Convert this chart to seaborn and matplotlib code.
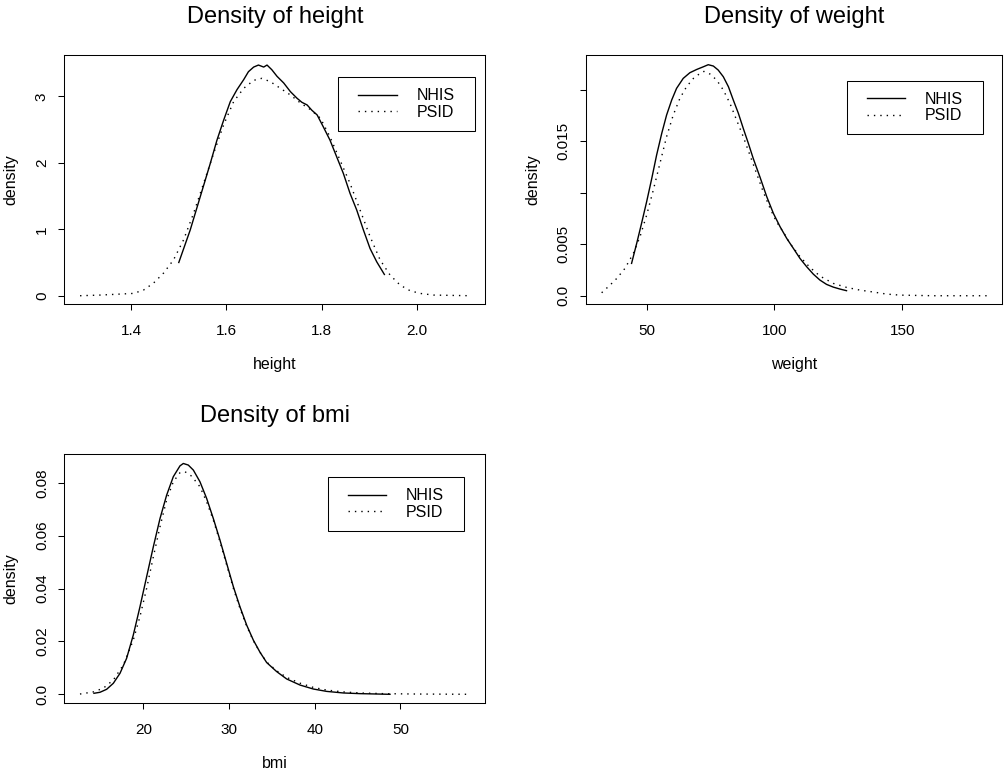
import numpy as np
import pandas as pd
import matplotlib
matplotlib.use("Agg")
import matplotlib.pyplot as plt
import seaborn as sns
from matplotlib.lines import Line2D
from matplotlib.legend_handler import HandlerLine2D

# valores
height_nhis_x = [1.500, 1.524, 1.545, 1.566, 1.580, 1.594, 1.608, 1.622, 1.636, 1.646, 1.657, 1.667,
                 1.678, 1.685, 1.695, 1.706, 1.720, 1.734, 1.748, 1.758, 1.769, 1.779, 1.790, 1.803,
                 1.817, 1.831, 1.845, 1.859, 1.873, 1.887, 1.901, 1.915, 1.931]
height_nhis_y = [0.50, 0.99, 1.49, 1.99, 2.34, 2.64, 2.92, 3.10, 3.25, 3.37, 3.44, 3.47,
                 3.44, 3.47, 3.40, 3.30, 3.20, 3.07, 2.97, 2.91, 2.87, 2.79, 2.72, 2.54,
                 2.34, 2.09, 1.84, 1.54, 1.29, 0.99, 0.71, 0.51, 0.32]
height_psid_x = [1.293, 1.335, 1.405, 1.426, 1.447, 1.468, 1.489, 1.510, 1.531, 1.552, 1.573, 1.594,
                 1.615, 1.636, 1.657, 1.674, 1.692, 1.713, 1.734, 1.755, 1.776, 1.797, 1.817, 1.838,
                 1.859, 1.880, 1.901, 1.922, 1.943, 1.964, 1.985, 2.006, 2.034, 2.111]
height_psid_y = [0.0, 0.01, 0.035, 0.085, 0.19, 0.34, 0.54, 0.84, 1.24, 1.69, 2.14, 2.57,
                 2.92, 3.12, 3.24, 3.27, 3.22, 3.12, 3.02, 2.90, 2.80, 2.67, 2.39, 2.04,
                 1.69, 1.29, 0.89, 0.54, 0.31, 0.16, 0.075, 0.035, 0.01, 0.0]

weight_nhis_x = [44.1, 46.1, 48.0, 50.0, 52.0, 53.9, 55.9, 57.8, 59.8, 61.7, 64.3, 66.9, 69.6, 72.2,
                 74.1, 76.1, 78.0, 80.0, 82.0, 83.9, 85.9, 87.8, 89.8, 91.7, 94.3, 97.0, 99.6,
                 102.2, 104.8, 107.4, 110.0, 112.6, 115.2, 117.8, 120.4, 123.0, 125.6, 128.2]
weight_nhis_y = [0.00314, 0.00508, 0.00702, 0.00913, 0.01139, 0.01366, 0.01576, 0.01754, 0.0190,
                 0.02013, 0.0211, 0.02165, 0.02197, 0.02223, 0.02243, 0.0223, 0.02191, 0.02126,
                 0.02029, 0.0190, 0.0177, 0.01625, 0.01479, 0.01333, 0.01155, 0.00961, 0.00799,
                 0.0067, 0.00557, 0.0046, 0.00362, 0.00282, 0.0021, 0.00152, 0.0011, 0.00084,
                 0.00065, 0.00049]
weight_psid_x = [32.4, 35.7, 38.3, 41.5, 44.8, 47.4, 50.0, 52.6, 55.2, 57.8, 60.4, 63.0, 65.6, 68.3,
                 70.9, 72.4, 74.8, 77.4, 80.0, 82.6, 85.2, 87.8, 90.4, 93.0, 95.6, 98.3, 100.8,
                 103.4, 106.1, 110.0, 113.9, 117.8, 123.0, 128.2, 133.4, 138.7, 143.9, 149.1,
                 162.1, 183.2]
weight_psid_y = [0.00029, 0.00104, 0.00168, 0.00265, 0.00411, 0.00573, 0.00783, 0.01026, 0.01285,
                 0.01544, 0.01754, 0.01916, 0.02029, 0.0211, 0.02159, 0.02178, 0.02152, 0.02094,
                 0.01997, 0.01867, 0.01705, 0.01544, 0.01366, 0.01188, 0.0101, 0.00848, 0.00718,
                 0.00621, 0.00508, 0.00379, 0.00275, 0.00191, 0.0012, 0.00081, 0.00055, 0.00036,
                 0.00016, 0.00006, 0.0, 0.0]

bmi_nhis_x = [14.24, 14.94, 15.72, 16.5, 17.28, 18.05, 18.83, 19.61, 20.39, 21.17, 21.95, 22.72,
              23.5, 24.28, 24.67, 25.25, 25.84, 26.61, 27.39, 28.17, 28.95, 29.73, 30.51, 31.28,
              32.06, 32.84, 33.62, 34.4, 35.56, 36.73, 38.29, 39.84, 41.4, 43.35, 45.29, 48.79]
bmi_nhis_y = [0.00038, 0.00076, 0.00189, 0.00416, 0.00794, 0.0136, 0.0224, 0.0331, 0.0445, 0.0558,
              0.0665, 0.0753, 0.0823, 0.0864, 0.0873, 0.0867, 0.0848, 0.0804, 0.0741, 0.0665,
              0.0583, 0.0495, 0.0407, 0.0331, 0.0262, 0.0205, 0.0159, 0.012, 0.0086, 0.0058,
              0.0035, 0.002, 0.0011, 0.0005, 0.00025, 0.0]
bmi_psid_x = [12.61, 14.16, 15.33, 16.5, 17.67, 18.83, 19.61, 20.39, 21.17, 21.95, 22.72, 23.5,
              24.28, 24.86, 25.64, 26.61, 27.39, 28.17, 28.95, 29.73, 30.51, 31.28, 32.06, 32.84,
              33.62, 34.4, 35.56, 36.73, 38.29, 39.84, 41.4, 43.35, 45.29, 48.0, 51.9, 58.13]
bmi_psid_y = [0.0001, 0.0009, 0.0023, 0.0054, 0.0111, 0.0205, 0.0294, 0.0401, 0.052, 0.0634,
              0.0735, 0.0804, 0.0838, 0.0842, 0.0825, 0.0785, 0.0728, 0.0659, 0.0577, 0.0489,
              0.0401, 0.0325, 0.0258, 0.0203, 0.0159, 0.0122, 0.0089, 0.0064, 0.0042, 0.0026,
              0.0016, 0.0009, 0.0005, 0.00025, 0.0001, 0.0]

height_xticks = [1.4, 1.6, 1.8, 2.0]
height_xlabels = ["1.4", "1.6", "1.8", "2.0"]
height_yticks = [0, 1, 2, 3]
height_ylabels = ["0", "1", "2", "3"]
weight_xticks = [50, 100, 150]
weight_xlabels = ["50", "100", "150"]
weight_yticks = [0.0, 0.005, 0.010, 0.015, 0.020]
weight_ylabels = ["0.0", "0.005", "", "0.015", ""]
bmi_xticks = [20, 30, 40, 50]
bmi_xlabels = ["20", "30", "40", "50"]
bmi_yticks = [0.0, 0.02, 0.04, 0.06, 0.08]
bmi_ylabels = ["0.0", "0.02", "0.04", "0.06", "0.08"]

plt.rcParams['font.family'] = ['Liberation Sans', 'DejaVu Sans']
plt.rcParams['axes.linewidth'] = 0.75

fig = plt.figure(figsize=(10.08, 7.76), dpi=100)

paineis = [
    ("height", [0.0638, 0.6082, 0.4177, 0.3209], height_nhis_x, height_nhis_y, height_psid_x, height_psid_y,
     (1.26, 2.1427), (-0.1249, 3.621), height_xticks, height_xlabels, height_yticks, height_ylabels,
     (0.9755, 0.9104), 0.3247),
    ("weight", [0.5813, 0.6082, 0.4124, 0.3209], weight_nhis_x, weight_nhis_y, weight_psid_x, weight_psid_y,
     (26.25, 188.9), (-0.000806, 0.02337), weight_xticks, weight_xlabels, weight_yticks, weight_ylabels,
     (0.9557, 0.8968), 0.3288),
    ("bmi", [0.0638, 0.0937, 0.4177, 0.3213], bmi_nhis_x, bmi_nhis_y, bmi_psid_x, bmi_psid_y,
     (10.78, 59.92), (-0.0034, 0.0909), bmi_xticks, bmi_xlabels, bmi_yticks, bmi_ylabels,
     (0.9501, 0.9065), 0.3247),
]

for nome, pos, nx, ny, px, py, xlim, ylim, xt, xl, yt, yl, leg_pos, leg_w in paineis:
    ax = fig.add_axes(pos)
    df_n = pd.DataFrame({"x": nx, "y": ny})
    df_p = pd.DataFrame({"x": px, "y": py})
    sns.lineplot(data=df_n, x="x", y="y", ax=ax, color="black", linewidth=1.0,
                 estimator=None, sort=False, label="NHIS")
    sns.lineplot(data=df_p, x="x", y="y", ax=ax, color="black", linewidth=1.0,
                 linestyle=(0, (1, 3.6)), estimator=None, sort=False, label="PSID")
    ax.set_xlim(*xlim)
    ax.set_ylim(*ylim)
    ax.set_xticks(xt)
    ax.set_xticklabels(xl)
    ax.set_yticks(yt)
    ax.set_yticklabels(yl, rotation=90, va="center")
    ax.tick_params(direction="out", length=4.1, width=0.75, labelsize=11, colors="black")
    ax.tick_params(axis="x", pad=10)
    ax.tick_params(axis="y", pad=7)
    ax.set_title("Density of " + nome, fontsize=17, pad=23)
    ax.set_xlabel(nome, fontsize=11.5)
    ax.set_ylabel("density", fontsize=11.5)
    w_px = pos[2] * 1008
    ax.xaxis.set_label_coords(0.5, -53 / 249)
    ax.yaxis.set_label_coords(-46 / w_px, 0.5)
    for s in ax.spines.values():
        s.set_color("black")
    leg = ax.legend(loc="upper right", bbox_to_anchor=(leg_pos[0] - leg_w, 0, leg_w, leg_pos[1]),
                    mode="expand", borderaxespad=0, fontsize=11.5, fancybox=False, framealpha=1,
                    edgecolor="black", borderpad=0.68, labelspacing=0.10, handlelength=3.575,
                    handletextpad=0.64, numpoints=2,
                    handler_map={Line2D: HandlerLine2D(numpoints=2, marker_pad=0.57)})
    leg.get_frame().set_linewidth(0.75)

fig.savefig("out.png", dpi=100)
